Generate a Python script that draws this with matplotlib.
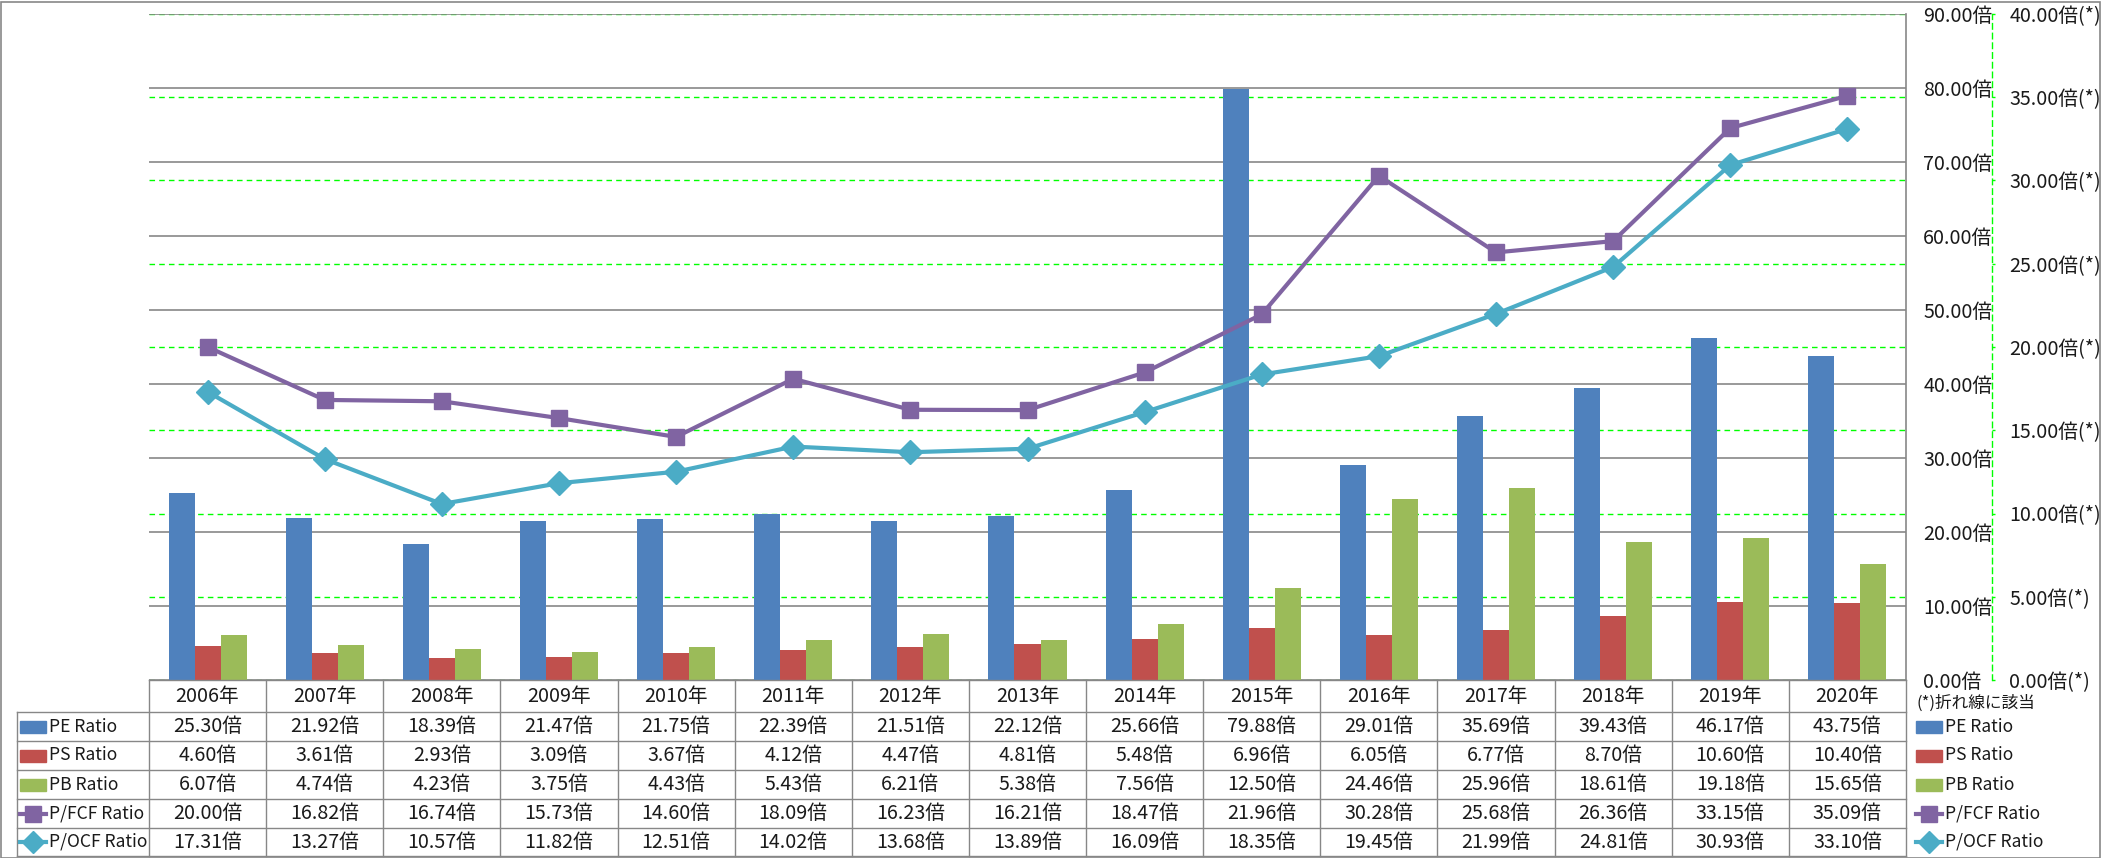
import matplotlib
matplotlib.use("Agg")
import matplotlib.pyplot as plt
import matplotlib.transforms as mtransforms
from matplotlib.lines import Line2D
from matplotlib.patches import Rectangle
from matplotlib.ticker import FuncFormatter, MultipleLocator
import numpy as np

plt.rcParams['font.family'] = ['Noto Sans CJK JP', 'DejaVu Sans']

# ── Data ──────────────────────────────────────────────────────────────────────
YEARS = ["2006年", "2007年", "2008年", "2009年", "2010年", "2011年", "2012年", "2013年",
         "2014年", "2015年", "2016年", "2017年", "2018年", "2019年", "2020年"]
PE = [25.30, 21.92, 18.39, 21.47, 21.75, 22.39, 21.51, 22.12, 25.66, 79.88, 29.01, 35.69, 39.43, 46.17, 43.75]
PS = [4.60, 3.61, 2.93, 3.09, 3.67, 4.12, 4.47, 4.81, 5.48, 6.96, 6.05, 6.77, 8.70, 10.60, 10.40]
PB = [6.07, 4.74, 4.23, 3.75, 4.43, 5.43, 6.21, 5.38, 7.56, 12.50, 24.46, 25.96, 18.61, 19.18, 15.65]
PFCF = [20.00, 16.82, 16.74, 15.73, 14.60, 18.09, 16.23, 16.21, 18.47, 21.96, 30.28, 25.68, 26.36, 33.15, 35.09]
POCF = [17.31, 13.27, 10.57, 11.82, 12.51, 14.02, 13.68, 13.89, 16.09, 18.35, 19.45, 21.99, 24.81, 30.93, 33.10]

BAR_NAMES = ["PE Ratio", "PS Ratio", "PB Ratio"]
LINE_NAMES = ["P/FCF Ratio", "P/OCF Ratio"]
UNIT = "倍"
NOTE = "(*)折れ線に該当"

# ── Style ─────────────────────────────────────────────────────────────────────
BAR_COLORS = ["#4F81BD", "#C0504D", "#9BBB59"]
LINE_COLORS = ["#8064A2", "#4BACC6"]
LINE_MARKERS = ["s", "D"]
GREY = "#878787"
GREEN = "#00FF00"
TXT = "#1a1a1a"
FS = 14.2        # numbers, years, axis labels
FS_NAME = 12.6   # series names in the table / legend

W, H = 2101, 858


def fx(px):
    return px / W


def fy(py):
    return 1 - py / H


fig = plt.figure(figsize=(W / 100, H / 100), dpi=100)

PL, PR, PT, PB_ = 149, 1906, 14, 680
rect = [fx(PL), fy(PB_), fx(PR) - fx(PL), fy(PT) - fy(PB_)]

# secondary axis (bottom layer): green dashed grid + axis
ax2 = fig.add_axes(rect, zorder=0)
ax2.set_ylim(0, 40)
ax2.set_xlim(-0.5, len(YEARS) - 0.5)
ax2.yaxis.set_major_locator(MultipleLocator(5))
ax2.yaxis.tick_right()
ax2.yaxis.grid(True, color=GREEN, linestyle=(0, (4, 3)), lw=1.0)
ax2.set_xticks([])
for s in ["left", "top", "bottom"]:
    ax2.spines[s].set_visible(False)
ax2.spines["right"].set_position(("outward", (1992 - PR) * 0.72))
ax2.spines["right"].set_color(GREEN)
ax2.spines["right"].set_linestyle((0, (4, 3)))
ax2.spines["right"].set_linewidth(1.0)
ax2.tick_params(axis="y", direction="out", length=2.5, width=1, color=GREEN,
                pad=10, labelsize=FS, labelcolor=TXT)
ax2.yaxis.set_major_formatter(FuncFormatter(lambda v, p: f"{v:.2f}{UNIT}(*)"))

# primary axis: bars
ax = fig.add_axes(rect, zorder=1)
ax.patch.set_visible(False)
ax.set_ylim(0, 90)
ax.set_xlim(-0.5, len(YEARS) - 0.5)
ax.yaxis.set_major_locator(MultipleLocator(10))
ax.yaxis.tick_right()
ax.set_axisbelow(True)
ax.yaxis.grid(True, color=GREY, lw=1.2)
ax.set_xticks([])
for s in ["left", "top", "bottom"]:
    ax.spines[s].set_visible(False)
ax.spines["right"].set_color(GREY)
ax.spines["right"].set_linewidth(1.2)
ax.tick_params(axis="y", length=0, pad=12.5, labelsize=FS, labelcolor=TXT)
ax.yaxis.set_major_formatter(FuncFormatter(lambda v, p: f"{v:.2f}{UNIT}"))

x = np.arange(len(YEARS))
bw = 0.222
for k, (vals, col) in enumerate(zip([PE, PS, PB], BAR_COLORS)):
    ax.bar(x + (k - 1) * bw, vals, width=bw, color=col, zorder=2)

# lines on top (secondary scale)
ax3 = fig.add_axes(rect, zorder=2, sharey=ax2, sharex=ax2)
ax3.patch.set_visible(False)
ax3.axis("off")
for vals, col, mk in zip([PFCF, POCF], LINE_COLORS, LINE_MARKERS):
    ax3.plot(x, vals, color=col, lw=3, marker=mk,
             markersize=12 if mk == "s" else 12.5, markeredgewidth=1,
             markeredgecolor=col, markerfacecolor=col, clip_on=False,
             solid_joinstyle="round")

# ── Data table ────────────────────────────────────────────────────────────────
tr = mtransforms.blended_transform_factory(ax.transData, fig.transFigure)
row_edges = [680, 712, 741, 770, 799, 828, 856]
TL = 17
lkw = dict(color=GREY, lw=1.0, zorder=5)

# horizontal lines
fig.add_artist(Line2D([fx(PL), fx(PR)], [fy(680), fy(680)], transform=fig.transFigure, **lkw))
for ry in row_edges[1:]:
    fig.add_artist(Line2D([fx(TL), fx(PR)], [fy(ry), fy(ry)], transform=fig.transFigure, **lkw))
# vertical lines
fig.add_artist(Line2D([fx(TL), fx(TL)], [fy(712), fy(856)], transform=fig.transFigure, **lkw))
for i in range(len(YEARS) + 1):
    fig.add_artist(Line2D([i - 0.5, i - 0.5], [fy(680), fy(856)], transform=tr, **lkw))

# year header
for i, yl in enumerate(YEARS):
    fig.text(i, fy(696), yl, transform=tr, ha="center", va="center", fontsize=FS, color=TXT)

# values
all_rows = [PE, PS, PB, PFCF, POCF]
for r, vals in enumerate(all_rows):
    yc = (row_edges[r + 1] + row_edges[r + 2]) / 2
    for i, v in enumerate(vals):
        fig.text(i, fy(yc), f"{v:.2f}{UNIT}", transform=tr, ha="center",
                 va="center", fontsize=FS, color=TXT)


# legend keys (left row headers and right legend)
def draw_key(r, x0, x1, xt):
    yc = (row_edges[r + 1] + row_edges[r + 2]) / 2
    if r < 3:
        fig.add_artist(Rectangle((fx(x0), fy(yc + 6)), fx(x1) - fx(x0), 12 / H,
                                 transform=fig.transFigure, color=BAR_COLORS[r], zorder=6))
        name = BAR_NAMES[r]
    else:
        col = LINE_COLORS[r - 3]
        mk = LINE_MARKERS[r - 3]
        fig.add_artist(Line2D([fx(x0), fx(x1)], [fy(yc), fy(yc)], transform=fig.transFigure,
                              color=col, lw=3, zorder=6))
        fig.add_artist(Line2D([fx((x0 + x1) / 2)], [fy(yc)], transform=fig.transFigure,
                              color=col, marker=mk, markersize=11 if mk == "s" else 11.5,
                              zorder=7))
        name = LINE_NAMES[r - 3]
    fig.text(fx(xt), fy(yc), name, ha="left", va="center", fontsize=FS_NAME, color=TXT)


for r in range(5):
    draw_key(r, 20, 46, 49)
    draw_key(r, 1916, 1942, 1945)

fig.text(fx(1917), fy(703), NOTE, ha="left", va="center", fontsize=12, color=TXT)

# outer border
fig.add_artist(Rectangle((0.5 / W, 0.5 / H), 1 - 1.5 / W, 1 - 2 / H, transform=fig.transFigure,
                         fill=False, edgecolor=GREY, lw=1.2, zorder=10))

fig.savefig("out.png", dpi=100)
